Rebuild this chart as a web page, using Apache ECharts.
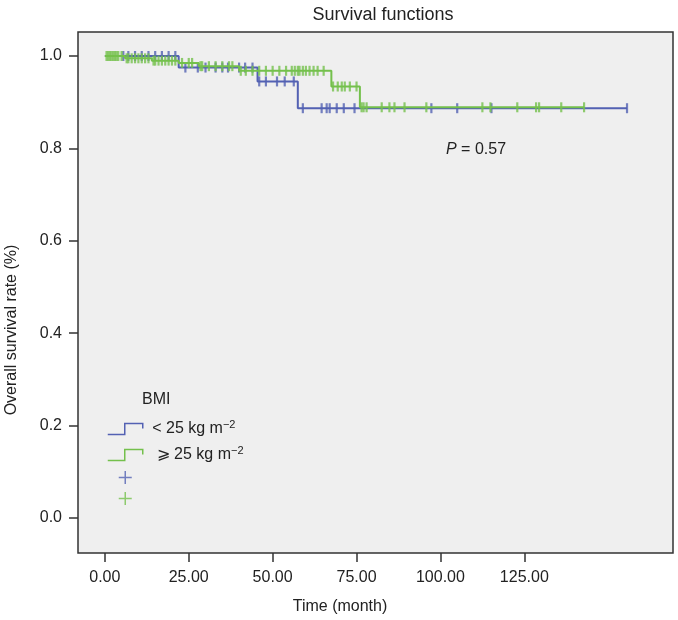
<!DOCTYPE html>
<html><head><meta charset="utf-8">
<script src="https://cdn.jsdelivr.net/npm/echarts@6/dist/echarts.min.js"></script>
<style>html,body{margin:0;padding:0;background:#fff}#c{width:678px;height:620px}</style>
</head><body><div id="c"></div>
<script>
// Kaplan-Meier steps: [time (month), survival] at each drop
var blueStepTimes = [0, 22, 45.5, 57.5, 155.6];
var blueStepSurv  = [1.0, 0.975, 0.945, 0.887, 0.887];
var greenStepTimes = [0, 6, 14, 22, 28, 40, 67.5, 76, 142.8];
var greenStepSurv  = [1.0, 0.995, 0.99, 0.985, 0.978, 0.968, 0.934, 0.889, 0.889];
// censored observation times
var blueCensor = [5.5, 7, 9, 11, 13, 15, 17, 19, 21, 24, 27.7, 30, 33, 35, 36.7, 40, 41.8, 44,
  46, 48, 51.3, 53.6, 56.3, 59, 64.6, 66.1, 67, 69.1, 71.2, 74.4, 97.3, 105, 115.2, 155.6];
var greenCensor = [0.5, 1, 1.5, 2, 2.5, 3, 3.5, 4, 5, 6.5, 7, 8, 9, 10, 11, 12, 13, 14.5, 15, 16, 17, 18, 19, 20, 21,
  23, 25, 26, 28.5, 29, 31, 33, 35, 37, 38, 40.5, 42, 44, 46, 48, 50, 52, 54, 55.7, 56.6, 57.5, 58, 59, 59.9,
  61, 62.2, 63.4, 65.2, 68, 69.4, 70.6, 71.5, 73, 75, 76.5, 77.1, 78, 82.5, 84.8, 86.3, 89.3, 95.8,
  112.5, 114.9, 122.9, 128.5, 129.4, 136, 142.8];
var xTicks = [0, 25, 50, 75, 100, 125];
var yTicks = [0, 0.2, 0.4, 0.6, 0.8, 1.0];
var groupNames = ['< 25 kg m', '⩾ 25 kg m'];

var BLUE = '#5361b3', GREEN = '#74c04c';
function steps(t, s) { return t.map(function (v, i) { return [v, s[i]]; }); }
function survAt(t, s, x) { var v = s[0]; for (var i = 0; i < t.length; i++) { if (t[i] <= x) v = s[i]; } return v; }
function censorPts(c, t, s) { return c.map(function (x) { return [x, survAt(t, s, x)]; }); }

var stepIcon = 'path://M0,11 L17,11 L17,0 L35,0 L35,5';
var plusIcon = 'path://M6.2,0 L7.8,0 L7.8,6.2 L14,6.2 L14,7.8 L7.8,7.8 L7.8,14 L6.2,14 L6.2,7.8 L0,7.8 L0,6.2 L6.2,6.2 Z';
var FONT = 'Liberation Sans, Arial, sans-serif';

var chart = echarts.init(document.getElementById('c'), null, { renderer: 'canvas' });
chart.setOption({
  animation: false,
  backgroundColor: '#fff',
  title: { text: 'Survival functions', left: 378, top: 1, textAlign: 'center',
    textStyle: { fontFamily: FONT, fontSize: 18, fontWeight: 'normal', color: '#222' } },
  grid: { left: 78, right: 5, top: 32, bottom: 67, show: true, backgroundColor: '#efefef',
    borderColor: '#333', borderWidth: 1.5 },
  xAxis: { type: 'value', min: -8, max: 169.3,
    axisLine: { show: false, onZero: false },
    axisTick: { show: true, inside: false, length: 9, lineStyle: { color: '#333', width: 1.5 }, customValues: xTicks },
    axisLabel: { customValues: xTicks, formatter: function (v) { return v.toFixed(2); }, margin: 17,
      fontFamily: FONT, fontSize: 16, color: '#222' },
    splitLine: { show: false } },
  yAxis: { type: 'value', min: -0.076, max: 1.052,
    axisLine: { show: false, onZero: false },
    axisTick: { show: true, inside: false, length: 9, lineStyle: { color: '#333', width: 1.5 }, customValues: yTicks },
    axisLabel: { customValues: yTicks, formatter: function (v) { return v.toFixed(1); }, margin: 16,
      fontFamily: FONT, fontSize: 16, color: '#222' },
    splitLine: { show: false } },
  legend: {
    orient: 'vertical', left: 102, top: 414, itemWidth: 35, itemHeight: 13, itemGap: 8,
    textStyle: { fontFamily: FONT, fontSize: 16, color: '#222',
      rich: { sup: { fontFamily: FONT, fontSize: 11, color: '#222', padding: [0, 0, 9, 0] } } },
    formatter: function (n) {
      if (n === 'lt') return ' ' + groupNames[0] + '{sup|−2}';
      if (n === 'ge') return '  ' + groupNames[1] + '{sup|−2}';
      return '';
    },
    data: [
      { name: 'lt', icon: stepIcon, itemStyle: { color: 'transparent', borderColor: BLUE, borderWidth: 1.5 } },
      { name: 'ge', icon: stepIcon, itemStyle: { color: 'transparent', borderColor: GREEN, borderWidth: 1.5 } },
      { name: 'ltc', icon: plusIcon, itemStyle: { color: BLUE, borderWidth: 0 } },
      { name: 'gec', icon: plusIcon, itemStyle: { color: GREEN, borderWidth: 0 } }
    ]
  },
  graphic: [
    { type: 'text', x: 12, y: 330, rotation: Math.PI / 2,
      style: { text: 'Overall survival rate (%)', fontFamily: FONT, fontSize: 16, fill: '#222',
        align: 'center', verticalAlign: 'middle' } },
    { type: 'text', x: 340, y: 607,
      style: { text: 'Time (month)', fontFamily: FONT, fontSize: 16, fill: '#222',
        align: 'center', verticalAlign: 'middle' } },
    { type: 'text', x: 446, y: 150,
      style: { text: '{i|P} = 0.57', fontFamily: FONT, fontSize: 16, fill: '#222', verticalAlign: 'middle',
        rich: { i: { fontStyle: 'italic', fontFamily: FONT, fontSize: 16, fill: '#222', color: '#222' } } } },
    { type: 'text', x: 142, y: 400,
      style: { text: 'BMI', fontFamily: FONT, fontSize: 16, fill: '#222', verticalAlign: 'middle' } }
  ],
  series: [
    { name: 'lt', type: 'line', step: 'end', showSymbol: false, data: steps(blueStepTimes, blueStepSurv),
      lineStyle: { color: BLUE, width: 2 }, itemStyle: { color: BLUE }, z: 2 },
    { name: 'ge', type: 'line', step: 'end', showSymbol: false, data: steps(greenStepTimes, greenStepSurv),
      lineStyle: { color: GREEN, width: 2 }, itemStyle: { color: GREEN }, z: 3 },
    { name: 'ltc', type: 'scatter', symbol: 'rect', symbolSize: [2.2, 10],
      data: censorPts(blueCensor, blueStepTimes, blueStepSurv), itemStyle: { color: BLUE }, z: 2 },
    { name: 'gec', type: 'scatter', symbol: 'rect', symbolSize: [2.2, 10],
      data: censorPts(greenCensor, greenStepTimes, greenStepSurv), itemStyle: { color: GREEN }, z: 3 }
  ]
});
</script></body></html>
